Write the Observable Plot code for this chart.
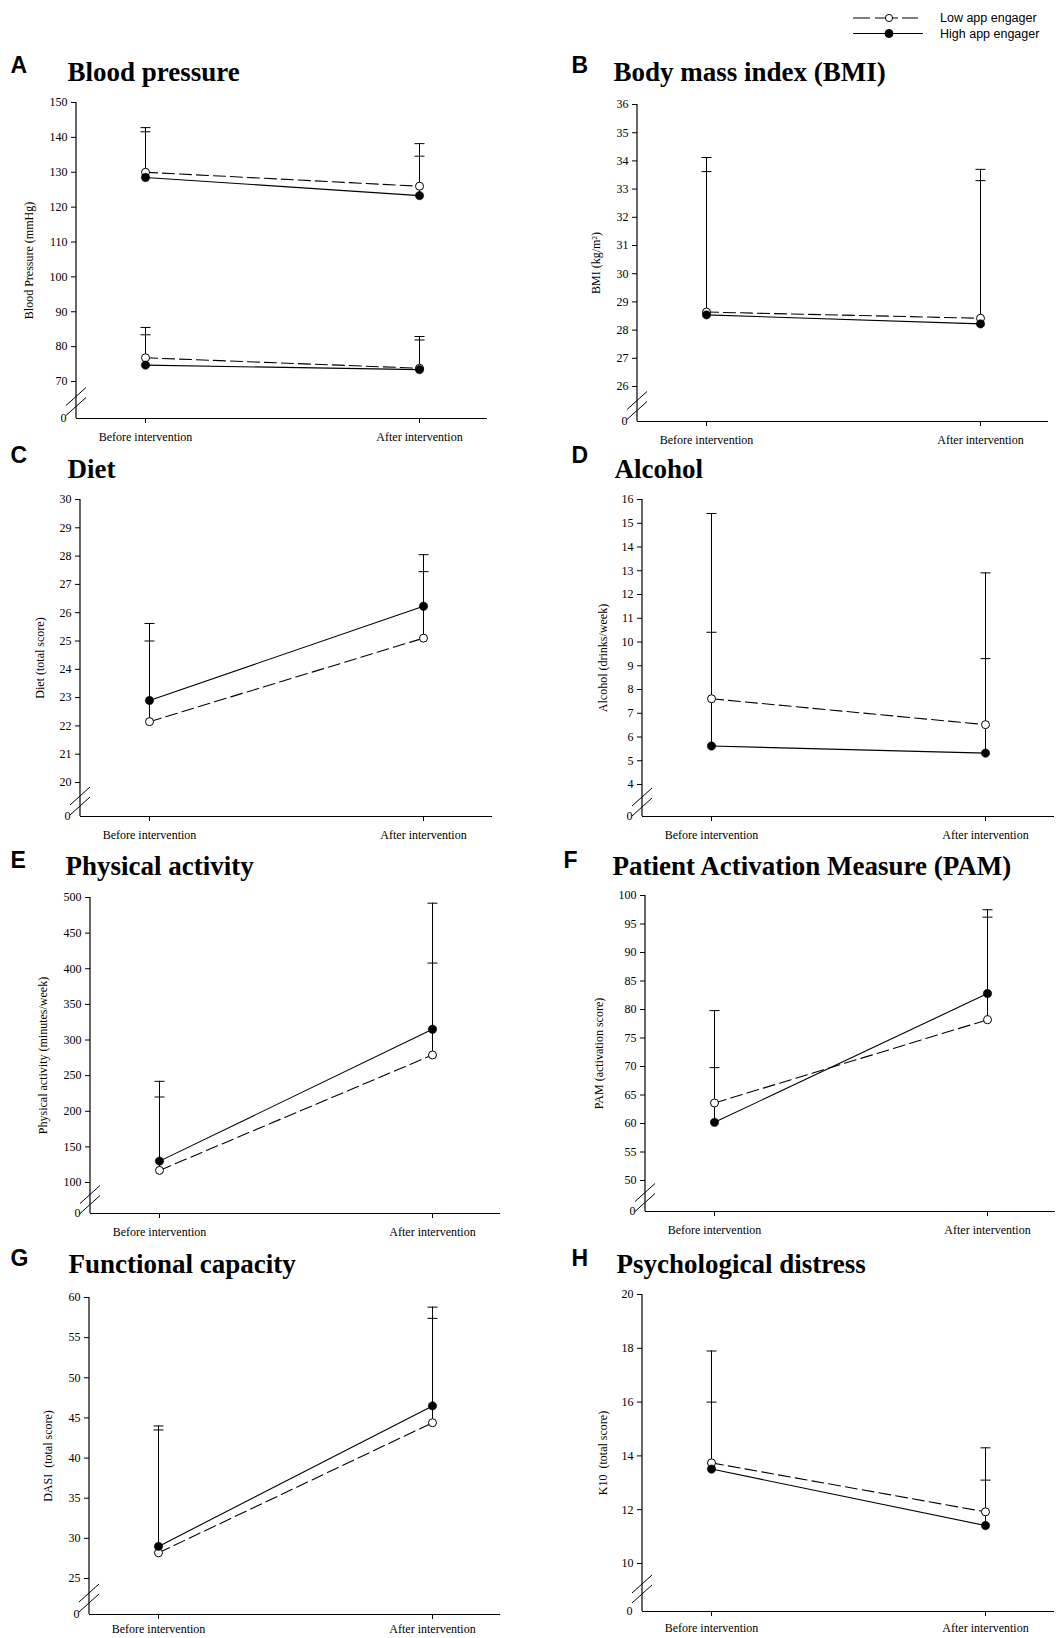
<!DOCTYPE html>
<html>
<head>
<meta charset="utf-8">
<script src="https://cdn.jsdelivr.net/npm/d3@7"></script>
<script src="https://cdn.jsdelivr.net/npm/@observablehq/plot@0.6"></script>
<style>
  html, body { margin: 0; padding: 0; background: #fff; }
  #chart { position: relative; width: 1062px; height: 1638px; overflow: hidden; background: #fff; }
  #chart > svg { position: absolute; }
</style>
</head>
<body>
<div id="chart"></div>
<script>
// ---------------- data ----------------
const categories = ["Before intervention", "After intervention"];
const groups = ["Low app engager", "High app engager"];

const panelLetters = ["A", "B", "C", "D", "E", "F", "G", "H"];
const panelTitles = [
  "Blood pressure", "Body mass index (BMI)", "Diet", "Alcohol",
  "Physical activity", "Patient Activation Measure (PAM)",
  "Functional capacity", "Psychological distress"
];
const yLabels = [
  "Blood Pressure (mmHg)", "BMI (kg/m\u00B2)", "Diet (total score)", "Alcohol (drinks/week)",
  "Physical activity (minutes/week)", "PAM (activation score)",
  "DASI\u00A0 (total score)", "K10\u00A0 (total score)"
];
const yTicksA = [70, 80, 90, 100, 110, 120, 130, 140, 150];
const yTicksB = [26, 27, 28, 29, 30, 31, 32, 33, 34, 35, 36];
const yTicksC = [20, 21, 22, 23, 24, 25, 26, 27, 28, 29, 30];
const yTicksD = [4, 5, 6, 7, 8, 9, 10, 11, 12, 13, 14, 15, 16];
const yTicksE = [100, 150, 200, 250, 300, 350, 400, 450, 500];
const yTicksF = [50, 55, 60, 65, 70, 75, 80, 85, 90, 95, 100];
const yTicksG = [25, 30, 35, 40, 45, 50, 55, 60];
const yTicksH = [10, 12, 14, 16, 18, 20];

// means [before, after] and upper ends of the error bars [before, after]
const sysLowMean = [130.0, 126.0],  sysLowUpper = [142.8, 138.2];
const sysHighMean = [128.5, 123.3], sysHighUpper = [141.6, 134.6];
const diaLowMean = [76.8, 73.8],    diaLowUpper = [85.5, 82.9];
const diaHighMean = [74.7, 73.4],   diaHighUpper = [83.4, 81.9];
const bmiLowMean = [28.64, 28.42],  bmiLowUpper = [34.12, 33.70];
const bmiHighMean = [28.54, 28.22], bmiHighUpper = [33.62, 33.30];
const dietLowMean = [22.15, 25.10], dietLowUpper = [25.00, 27.45];
const dietHighMean = [22.90, 26.23], dietHighUpper = [25.62, 28.05];
const alcLowMean = [7.61, 6.52],    alcLowUpper = [15.41, 12.91];
const alcHighMean = [5.62, 5.32],   alcHighUpper = [10.41, 9.30];
const paLowMean = [117, 279],       paLowUpper = [220, 408];
const paHighMean = [130, 315],      paHighUpper = [242, 492];
const pamLowMean = [63.6, 78.2],    pamLowUpper = [69.8, 96.2];
const pamHighMean = [60.2, 82.8],   pamHighUpper = [79.8, 97.5];
const dasiLowMean = [28.2, 44.4],   dasiLowUpper = [43.5, 57.4];
const dasiHighMean = [29.0, 46.5],  dasiHighUpper = [44.0, 58.8];
const k10LowMean = [13.74, 11.92],  k10LowUpper = [17.9, 14.3];
const k10HighMean = [13.51, 11.41], k10HighUpper = [16.0, 13.1];

// ---------------- helpers ----------------
function rows(series, lowMean, lowUpper, highMean, highUpper) {
  const out = [];
  categories.forEach((c, i) => {
    out.push({series, group: groups[0], time: c, mean: lowMean[i], upper: lowUpper[i]});
    out.push({series, group: groups[1], time: c, mean: highMean[i], upper: highUpper[i]});
  });
  return out;
}

const panelData = [
  [...rows("sys", sysLowMean, sysLowUpper, sysHighMean, sysHighUpper),
   ...rows("dia", diaLowMean, diaLowUpper, diaHighMean, diaHighUpper)],
  rows("bmi", bmiLowMean, bmiLowUpper, bmiHighMean, bmiHighUpper),
  rows("diet", dietLowMean, dietLowUpper, dietHighMean, dietHighUpper),
  rows("alc", alcLowMean, alcLowUpper, alcHighMean, alcHighUpper),
  rows("pa", paLowMean, paLowUpper, paHighMean, paHighUpper),
  rows("pam", pamLowMean, pamLowUpper, pamHighMean, pamHighUpper),
  rows("dasi", dasiLowMean, dasiLowUpper, dasiHighMean, dasiHighUpper),
  rows("k10", k10LowMean, k10LowUpper, k10HighMean, k10HighUpper)
];
const panelTicks = [yTicksA, yTicksB, yTicksC, yTicksD, yTicksE, yTicksF, yTicksG, yTicksH];

// ---------------- layout (page pixels) ----------------
const layouts = [
  {left: 0,   axisX: 76,  topY: 102,  firstY: 381,  bottomY: 418,  rightX: 487,  letterX: 10,  letterBase: 72,   titleX: 67,  titleBase: 80,   labelDist: 47, xPad: 9},
  {left: 531, axisX: 637, topY: 104,  firstY: 386,  bottomY: 421,  rightX: 1048, letterX: 571, letterBase: 72,   titleX: 613, titleBase: 80,   labelDist: 41, xPad: 9},
  {left: 0,   axisX: 80,  topY: 499,  firstY: 782,  bottomY: 816,  rightX: 492,  letterX: 10,  letterBase: 462,  titleX: 67,  titleBase: 477,  labelDist: 40, xPad: 9},
  {left: 531, axisX: 642, topY: 499,  firstY: 784,  bottomY: 816,  rightX: 1054, letterX: 571, letterBase: 462,  titleX: 614, titleBase: 477,  labelDist: 39, xPad: 9},
  {left: 0,   axisX: 90,  topY: 897,  firstY: 1182, bottomY: 1213, rightX: 500,  letterX: 10,  letterBase: 867,  titleX: 65,  titleBase: 874,  labelDist: 47, xPad: 9},
  {left: 531, axisX: 645, topY: 895,  firstY: 1180, bottomY: 1211, rightX: 1055, letterX: 563, letterBase: 867,  titleX: 612, titleBase: 874,  labelDist: 46, xPad: 9},
  {left: 0,   axisX: 89,  topY: 1297, firstY: 1578, bottomY: 1614, rightX: 500,  letterX: 10,  letterBase: 1265, titleX: 68,  titleBase: 1272, labelDist: 41, xPad: 5},
  {left: 531, axisX: 642, topY: 1294, firstY: 1563, bottomY: 1611, rightX: 1054, letterX: 571, letterBase: 1265, titleX: 616, titleBase: 1272, labelDist: 39, xPad: 7}
];

const SERIF = "'Liberation Serif', 'Times New Roman', Times, serif";
const SANS = "'Liberation Sans', Arial, Helvetica, sans-serif";

// horizontal cap symbol for the error bars
const capSymbol = {
  draw(context, size) {
    const r = Math.sqrt(size / Math.PI);
    context.moveTo(-r, 0);
    context.lineTo(r, 0);
  }
};

// y axis line plus the "//" axis break, drawn with the plot's scales
function axisWithBreak(lo, first, top) {
  return (index, scales, values, dimensions) => {
    const g = d3.create("svg:g");
    const x0 = dimensions.marginLeft;
    const yTop = scales.y(top), yLo = scales.y(lo), yFirst = scales.y(first);
    g.append("line")
      .attr("x1", x0).attr("x2", x0).attr("y1", yTop).attr("y2", yLo)
      .attr("stroke", "black").attr("stroke-width", 1.2);
    const yc = (yLo + yFirst) / 2 + 2;
    for (const d of [-5, 5]) {
      g.append("line")
        .attr("x1", x0 - 10).attr("y1", yc + d + 9)
        .attr("x2", x0 + 10).attr("y2", yc + d - 9)
        .attr("stroke", "black").attr("stroke-width", 1);
    }
    return g.node();
  };
}

const chart = document.getElementById("chart");

panelData.forEach((data, i) => {
  const L = layouts[i];
  const ticks = panelTicks[i];
  const first = ticks[0], top = ticks[ticks.length - 1];
  const pxPerUnit = (L.firstY - L.topY) / (top - first);
  const lo = first - (L.bottomY - L.firstY) / pxPerUnit;

  const svgTop = L.titleBase - 36;
  const svgBottom = Math.min(L.bottomY + 32, 1638);
  const width = 531;
  const height = svgBottom - svgTop;

  const low = data.filter(d => d.group === groups[0]);
  const high = data.filter(d => d.group === groups[1]);

  const plot = Plot.plot({
    width, height,
    marginTop: L.topY - svgTop,
    marginBottom: svgBottom - L.bottomY,
    marginLeft: L.axisX - L.left,
    marginRight: L.left + width - L.rightX,
    style: {background: "transparent", color: "black", fontFamily: SERIF, fontSize: "12px", overflow: "visible"},
    x: {type: "point", domain: categories, padding: 0.25},
    y: {type: "linear", domain: [lo, top]},
    marks: [
      Plot.ruleY([lo], {stroke: "black", strokeWidth: 1.2}),
      axisWithBreak(lo, first, top),
      Plot.axisY({ticks, tickSize: 5, tickPadding: 4, tickFormat: d => String(d), label: null, fontSize: 12}),
      Plot.axisY({ticks: [lo], tickSize: 0, tickPadding: 10, tickFormat: () => "0", label: null, fontSize: 12}),
      Plot.axisX({tickSize: 5, tickPadding: L.xPad, label: null, fontSize: 12}),
      Plot.line(low, {x: "time", y: "mean", z: "series", stroke: "black", strokeWidth: 1.1, strokeDasharray: "12,5"}),
      Plot.line(high, {x: "time", y: "mean", z: "series", stroke: "black", strokeWidth: 1.1}),
      Plot.ruleX(data, {x: "time", y1: "mean", y2: "upper", stroke: "black", strokeWidth: 1}),
      Plot.dot(data, {x: "time", y: "upper", symbol: capSymbol, r: 5, stroke: "black", strokeWidth: 1, fill: "none"}),
      Plot.dot(low, {x: "time", y: "mean", r: 4, fill: "white", stroke: "black", strokeWidth: 1}),
      Plot.dot(high, {x: "time", y: "mean", r: 4.2, fill: "black", stroke: "black", strokeWidth: 0.5}),
      Plot.text([panelLetters[i]], {
        frameAnchor: "top-left", dx: L.letterX - L.axisX, dy: L.letterBase - L.topY,
        lineAnchor: "bottom", textAnchor: "start",
        fontFamily: SANS, fontWeight: "bold", fontSize: 23, fill: "black"
      }),
      Plot.text([panelTitles[i]], {
        frameAnchor: "top-left", dx: L.titleX - L.axisX, dy: L.titleBase - L.topY,
        lineAnchor: "bottom", textAnchor: "start",
        fontFamily: SERIF, fontWeight: "bold", fontSize: 27, fill: "black"
      }),
      Plot.text([yLabels[i]], {
        frameAnchor: "left", dx: -L.labelDist, rotate: -90,
        lineAnchor: "middle", textAnchor: "middle",
        fontFamily: SERIF, fontSize: 12, fill: "black"
      })
    ]
  });
  plot.style.left = L.left + "px";
  plot.style.top = svgTop + "px";
  chart.appendChild(plot);
});

// ---------------- legend ----------------
const legend = d3.create("svg")
  .attr("width", 220).attr("height", 45)
  .style("position", "absolute").style("left", "840px").style("top", "0px")
  .style("overflow", "visible");
const legendRows = [
  {label: groups[0], y: 18, dash: "17,5,23,4,16,100", fill: "white"},
  {label: groups[1], y: 33.5, dash: null, fill: "black"}
];
legendRows.forEach(r => {
  const ln = legend.append("line")
    .attr("x1", 13).attr("x2", 83).attr("y1", r.y).attr("y2", r.y)
    .attr("stroke", "black").attr("stroke-width", 1);
  if (r.dash) ln.attr("stroke-dasharray", r.dash);
  legend.append("circle").attr("cx", 49).attr("cy", r.y).attr("r", r.fill === "white" ? 3.6 : 4)
    .attr("fill", r.fill).attr("stroke", "black").attr("stroke-width", 1);
  legend.append("text").attr("x", 100).attr("y", r.y).attr("dy", "0.35em")
    .attr("font-family", SANS).attr("font-size", 12.5).attr("fill", "black")
    .text(r.label);
});
chart.appendChild(legend.node());
</script>
</body>
</html>
